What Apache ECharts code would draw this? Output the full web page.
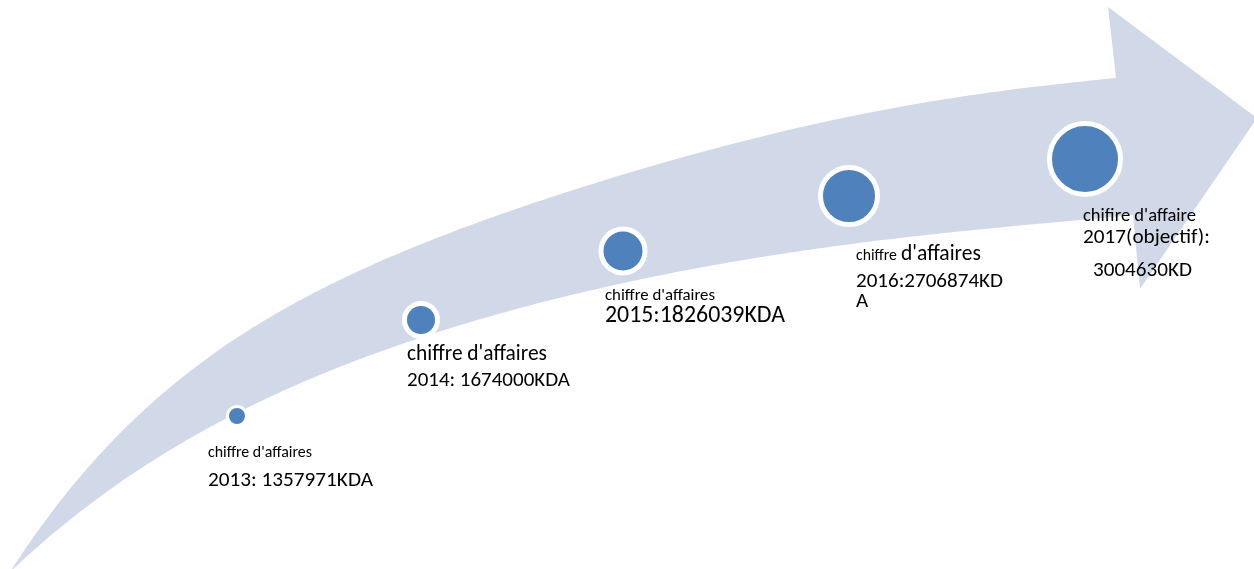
<!DOCTYPE html>
<html><head><meta charset="utf-8">
<script src="https://cdn.jsdelivr.net/npm/echarts@6/dist/echarts.min.js"></script>
<style>html,body{margin:0;padding:0;background:#fff;overflow:hidden}#c{width:1254px;height:569px}</style>
</head><body><div id="c"></div>
<script>
// ---------------- DATA ----------------
const years = ['2013', '2014', '2015', '2016', '2017'];
const revenue = [1357971, 1674000, 1826039, 2706874, 3004630];
const captions = ["chiffre d'affaires", "chiffre d'affaires", "chiffre d'affaires", "chiffre d'affaires", "chifire d'affaire"];
const yearSuffix = ['', '', '', '', '(objectif)'];
const separators = [': ', ': ', ':', ':', ':'];
const units = ['KDA', 'KDA', 'KDA', 'KDA', 'KD'];
const lineBreakAt = [null, null, null, 14, 15];

// ---------------- LAYOUT ----------------
const circleX = [237, 421, 623, 849, 1085];
const circleY = [416, 320, 251, 196, 159];
const circleSize = [19, 33, 44, 57, 71];
const circleBorder = [3, 5, 5, 5, 5];

// arrow outline samples (shape geometry, smoothed by a least-squares fit)
const upperSamples = [[10,572,10],[123,427,1],[183,380,1],[200,363,1],[300,300,1],[400,255,1],[480,220,1],[580,187,1],[680,157,1],[790,132,1],[900,107,1],[1013,88,1],[1116,78,10]];
const lowerSamples = [[10,572,10],[207,430,1],[233,413,1],[300,383,1],[400,347,1],[547,300,1],[595,288,1],[680,272,1],[800,252,1],[1020,225,1],[1133,215,10]];
const arrowHead = [[1108,7],[1257,118],[1140,289]];

const captionLayout = [
  [{x:208, b:457, w:104}],
  [{x:407, b:360, w:140}],
  [{x:605, b:300, w:110}],
  [{x:856, b:260, w:41}, {x:901, b:260, w:80}],
  [{x:1083, b:221, w:113}]
];
const valueLayout = [
  [{x:208, b:486, w:165}],
  [{x:407, b:386, w:163}],
  [{x:605, b:322, w:180}],
  [{x:856, b:287, w:147}, {x:856, b:307}],
  [{x:1083, b:243, w:127}, {x:1093, b:276, w:99}]
];
const FAMILY = "Carlito, 'Open Sans', sans-serif";

// ---------------- helpers ----------------
function polyfit(samples, deg) {
  const n = deg + 1, A = [], B = [];
  for (let i = 0; i < n; i++) { A.push(new Array(n).fill(0)); B.push(0); }
  samples.forEach(([x, y, w]) => {
    const u = x / 1254;
    const pw = []; for (let k = 0; k < n; k++) pw.push(Math.pow(u, k));
    for (let r = 0; r < n; r++) { for (let c = 0; c < n; c++) A[r][c] += w * pw[r] * pw[c]; B[r] += w * pw[r] * y; }
  });
  for (let i = 0; i < n; i++) {
    let p = i; for (let r = i + 1; r < n; r++) if (Math.abs(A[r][i]) > Math.abs(A[p][i])) p = r;
    [A[i], A[p]] = [A[p], A[i]]; [B[i], B[p]] = [B[p], B[i]];
    for (let r = i + 1; r < n; r++) { const f = A[r][i] / A[i][i]; for (let c = i; c < n; c++) A[r][c] -= f * A[i][c]; B[r] -= f * B[i]; }
  }
  const co = new Array(n).fill(0);
  for (let i = n - 1; i >= 0; i--) { let s = B[i]; for (let c = i + 1; c < n; c++) s -= A[i][c] * co[c]; co[i] = s / A[i][i]; }
  return x => { const u = x / 1254; let s = 0; for (let k = n - 1; k >= 0; k--) s = s * u + co[k]; return s; };
}
function edge(samples, deg) {
  const f = polyfit(samples, deg);
  const x0 = samples[0][0], x1 = samples[samples.length - 1][0];
  const pts = [];
  for (let x = x0; x < x1; x += 4) pts.push([x, f(x)]);
  pts.push([x1, f(x1)]);
  pts[0] = [x0, samples[0][1]];
  pts[pts.length - 1] = [x1, samples[samples.length - 1][1]];
  return pts;
}
const upperPts = edge(upperSamples, 5);
const lowerPts = edge(lowerSamples, 5).reverse();
const arrowPts = upperPts.concat(arrowHead, lowerPts);

const mctx = document.createElement('canvas').getContext('2d');
function fitSize(text, w) {
  mctx.font = '100px ' + FAMILY;
  return 100 * w / mctx.measureText(text).width;
}
function midOffset(fs) {
  mctx.font = fs + 'px ' + FAMILY;
  mctx.textBaseline = 'middle';
  const d = mctx.measureText('H').actualBoundingBoxDescent;
  mctx.textBaseline = 'alphabetic';
  return d;
}

const texts = [];
years.forEach((yr, i) => {
  const cl = captionLayout[i];
  const cap = captions[i];
  const capParts = cl.length === 1 ? [cap] : [cap.slice(0, cap.indexOf(' ')), cap.slice(cap.indexOf(' ') + 1)];
  capParts.forEach((t, j) => texts.push({ text: t, x: cl[j].x, b: cl[j].b, fs: fitSize(t, cl[j].w) }));
  const full = yr + yearSuffix[i] + separators[i] + revenue[i] + units[i];
  const lines = lineBreakAt[i] == null ? [full] : [full.slice(0, lineBreakAt[i]), full.slice(lineBreakAt[i])];
  let lastFs = 20;
  lines.forEach((t, j) => {
    const L = valueLayout[i][j];
    const fs = L.w ? fitSize(t, L.w) : lastFs;
    lastFs = fs;
    texts.push({ text: t, x: L.x, b: L.b, fs: fs });
  });
});

// ---------------- chart ----------------
const chart = echarts.init(document.getElementById('c'), null, { renderer: 'canvas' });
chart.setOption({
  animation: false,
  backgroundColor: '#ffffff',
  grid: { left: 0, right: 0, top: 0, bottom: 0 },
  xAxis: { type: 'value', min: 0, max: 1254, show: false },
  yAxis: { type: 'value', min: 0, max: 569, inverse: true, show: false },
  series: [
    {
      type: 'custom', silent: true, z: 1, clip: false,
      data: [[0, 0]],
      renderItem: function (params, api) {
        return { type: 'polygon', shape: { points: arrowPts.map(p => api.coord(p)) }, style: { fill: '#D1D9E8' } };
      }
    },
    {
      type: 'scatter', z: 2, silent: true,
      data: years.map((y, i) => ({
        name: y,
        value: [circleX[i], circleY[i], revenue[i]],
        symbolSize: circleSize[i],
        itemStyle: { borderWidth: circleBorder[i] }
      })),
      itemStyle: { color: '#4F81BD', borderColor: '#ffffff', opacity: 1 }
    }
  ],
  graphic: texts.map(t => ({
    type: 'text', z: 10, silent: true,
    x: t.x, y: t.b - midOffset(t.fs),
    style: { text: t.text, font: t.fs.toFixed(2) + 'px ' + FAMILY, fill: '#000000', align: 'left', verticalAlign: 'middle', textAlign: 'left', textVerticalAlign: 'middle' }
  }))
});
</script>
</body></html>
